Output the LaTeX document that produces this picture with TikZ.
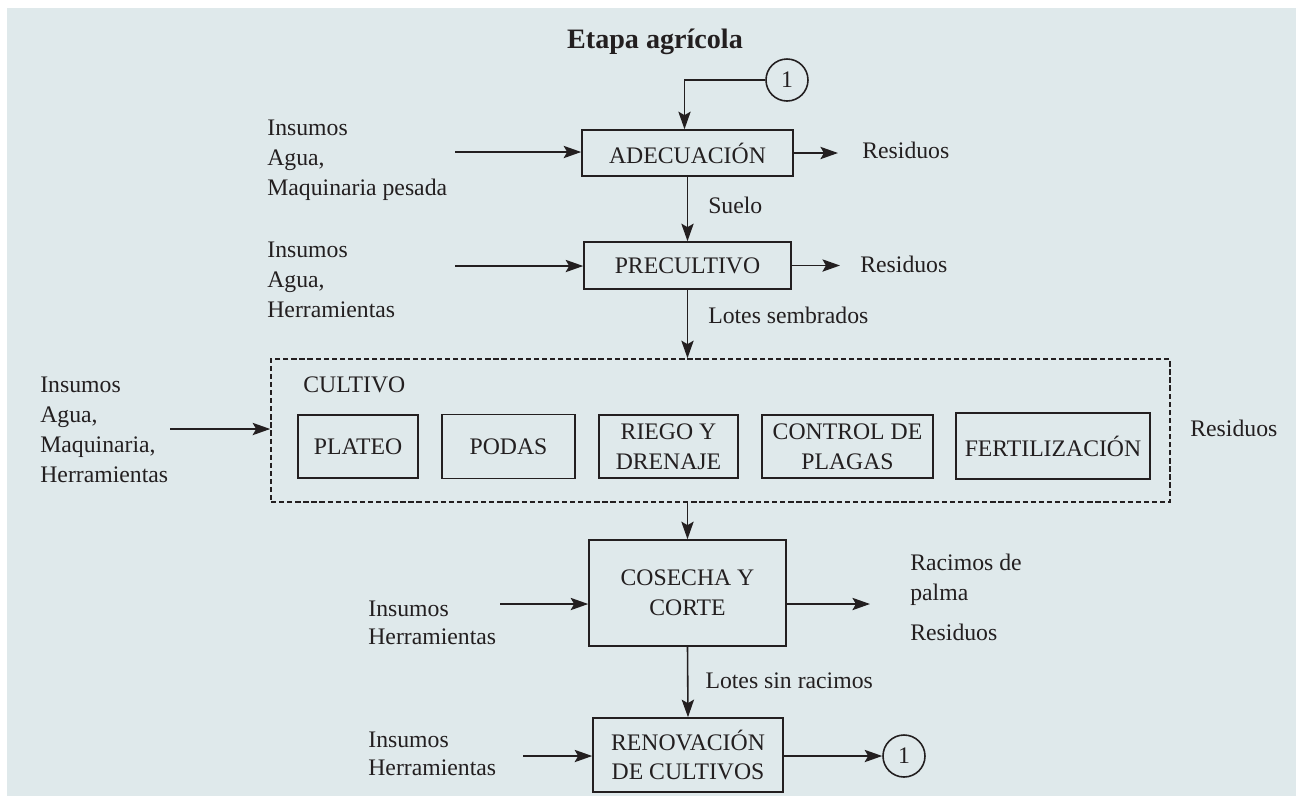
\documentclass[tikz,border=0pt]{standalone}
\usepackage{fontspec}
\setmainfont{Liberation Serif}
\usetikzlibrary{arrows.meta}
\definecolor{fondo}{HTML}{DFE9EB}
\definecolor{tinta}{HTML}{231F20}
\tikzset{
	caja/.style={draw=tinta,line width=0.9pt,text=tinta,align=center,inner sep=0pt,font=\fontsize{13.5}{17}\selectfont},
	texto/.style={text=tinta,align=left,anchor=west,inner sep=0pt,font=\fontsize{13.5}{17}\selectfont},
	texto2/.style={texto,font=\fontsize{13.5}{16}\selectfont},
	flecha/.style={draw=tinta,line width=0.9pt,-{Stealth[length=10pt,width=7pt,inset=2pt]}},
	marca/.style={circle,draw=tinta,line width=0.9pt,minimum size=42*0.02cm,inner sep=0pt,text=tinta,font=\fontsize{13.5}{17}\selectfont}
}
\begin{document}
\begin{tikzpicture}[x=0.02cm,y=-0.02cm]
		\useasboundingbox (0,0) rectangle (1296,796);
		\fill[fondo] (7,8) rectangle (1296,796);
		\node[text=tinta,font=\fontsize{16}{19}\selectfont\bfseries] (titulo) at (655,42) {Etapa agrícola};

		\node[caja,minimum width=211*0.02cm,minimum height=46*0.02cm] (adec) at (687.5,153) {ADECUACIÓN};
		\node[caja,minimum width=207*0.02cm,minimum height=47*0.02cm] (precult) at (687.5,265.5) {PRECULTIVO};
		\node[caja,dashed,dash pattern=on 3pt off 1.6pt,minimum width=899*0.02cm,minimum height=143*0.02cm] (cultivo) at (720.5,430.5) {};
		\node[texto] (nomcult) at (303,385) {CULTIVO};
		\node[caja,minimum width=120*0.02cm,minimum height=63*0.02cm] (plateo) at (358,446.5) {PLATEO};
		\node[caja,minimum width=133*0.02cm,minimum height=64*0.02cm] (podas) at (508.5,446.5) {PODAS};
		\node[caja,minimum width=139*0.02cm,minimum height=63*0.02cm] (riego) at (668.5,446.5) {RIEGO Y\\DRENAJE};
		\node[caja,minimum width=171*0.02cm,minimum height=63*0.02cm] (control) at (847.5,446.5) {CONTROL DE\\PLAGAS};
		\node[caja,minimum width=194*0.02cm,minimum height=66*0.02cm] (fert) at (1053,446) {FERTILIZACIÓN};
		\node[caja,minimum width=197*0.02cm,minimum height=106*0.02cm] (cosecha) at (687.5,593) {COSECHA Y\\CORTE};
		\node[caja,minimum width=190*0.02cm,minimum height=74*0.02cm] (renov) at (688,755) {RENOVACIÓN\\DE CULTIVOS};
		\node[marca] (uno) at (787,80) {1};
		\node[marca] (uno2) at (904,756) {1};

		\node[texto] (ins1) at (267,160) {Insumos\\Agua,\\Maquinaria pesada};
		\node[texto] (ins2) at (267,280) {Insumos\\Agua,\\Herramientas};
		\node[texto] (ins3) at (40,430) {Insumos\\Agua,\\Maquinaria,\\Herramientas};
		\node[texto2] (ins4) at (368,623) {Insumos\\Herramientas};
		\node[texto2] (ins5) at (368,754) {Insumos\\Herramientas};
		\coordinate (e1) at (455,152);
		\coordinate (e2) at (455,266);
		\coordinate (e3) at (170,429);
		\coordinate (e4) at (500,604);
		\coordinate (e5) at (523,756);

		\node[texto] (res1) at (862,150) {Residuos};
		\node[texto] (res2) at (860,264) {Residuos};
		\node[texto] (res3) at (1190,428) {Residuos};
		\node[texto] (racimos) at (910,580) {Racimos de\\palma};
		\node[texto] (res4) at (910,632) {Residuos};
		\coordinate (s1) at (838,153);
		\coordinate (s2) at (840,265.5);
		\coordinate (s4) at (870,604);

		\draw[flecha] (uno.west) -| ([xshift=-3*0.02cm]adec.north);
		\draw[flecha] (e1) -- (adec.west |- e1);
		\draw[flecha] (e2) -- (precult.west |- e2);
		\draw[flecha] (e3) -- (cultivo.west |- e3);
		\draw[flecha] (e4) -- (cosecha.west |- e4);
		\draw[flecha] (e5) -- (renov.west |- e5);
		\draw[flecha] (adec.east) -- (s1);
		\draw[flecha] (precult.east) -- (s2);
		\draw[flecha] (cosecha.east |- s4) -- (s4);
		\draw[flecha] (renov.east |- uno2) -- (uno2.west);

		\draw[flecha] (adec.south) -- (precult.north) node[texto,pos=0.45,xshift=20*0.02cm] {Suelo};
		\draw[flecha] (precult.south) -- (precult.south |- cultivo.north) node[texto,pos=0.38,xshift=20*0.02cm] {Lotes sembrados};
		\draw[flecha] (precult.south |- cultivo.south) -- (cosecha.north);
		\draw[flecha] (cosecha.south) -- (renov.north) node[texto,pos=0.48,xshift=17*0.02cm] {Lotes sin racimos};
	\end{tikzpicture}
\end{document}
